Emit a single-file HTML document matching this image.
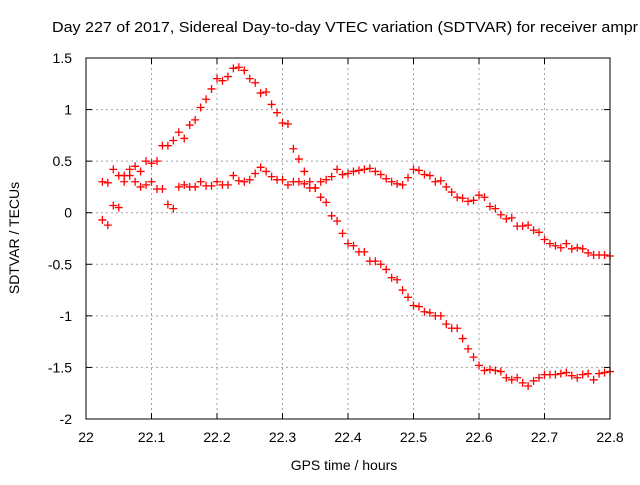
<!DOCTYPE html>
<html><head><meta charset="utf-8"><style>
body{margin:0;background:#fff;width:640px;height:480px;overflow:hidden}
svg text{font-family:"Liberation Sans",sans-serif;font-size:14px;fill:#000}
</style></head><body>
<svg id="chart" width="640" height="480" viewBox="0 0 640 480">
<rect width="640" height="480" fill="#fff"/>
<text x="52" y="32" style="font-size:15px" textLength="586" lengthAdjust="spacingAndGlyphs">Day 227 of 2017, Sidereal Day-to-day VTEC variation (SDTVAR) for receiver ampr</text>
<text x="344" y="470" text-anchor="middle">GPS time / hours</text>
<text transform="translate(19,238) rotate(-90)" text-anchor="middle">SDTVAR / TECUs</text>
<g id="grid"></g><g id="marks"></g>
<rect x="86" y="58" width="524" height="361" fill="none" stroke="#000" stroke-width="1"/>
</svg>
<script>
const xTicks=[22,22.1,22.2,22.3,22.4,22.5,22.6,22.7,22.8];
const xTickLabels=["22","22.1","22.2","22.3","22.4","22.5","22.6","22.7","22.8"];
const yTicks=[1.5,1,0.5,0,-0.5,-1,-1.5,-2];
const yTickLabels=["1.5","1","0.5","0","-0.5","-1","-1.5","-2"];
const startTime=22.025;
const stepHours=1/120;
const seriesA=[-0.07,-0.12,0.07,0.05,0.36,0.42,0.45,0.4,0.5,0.48,0.5,0.65,0.65,0.7,0.78,0.72,0.85,0.9,1.02,1.1,1.2,1.3,1.28,1.32,1.4,1.41,1.38,1.3,1.26,1.16,1.17,1.05,0.97,0.87,0.86,0.62,0.52,0.4,0.3,0.24,0.15,0.1,-0.03,-0.08,-0.2,-0.3,-0.32,-0.38,-0.38,-0.47,-0.47,-0.5,-0.55,-0.63,-0.65,-0.75,-0.82,-0.9,-0.91,-0.96,-0.97,-1.0,-1.0,-1.08,-1.12,-1.12,-1.22,-1.32,-1.4,-1.48,-1.53,-1.52,-1.53,-1.54,-1.6,-1.62,-1.6,-1.65,-1.68,-1.63,-1.6,-1.57,-1.57,-1.57,-1.56,-1.55,-1.58,-1.6,-1.57,-1.56,-1.62,-1.56,-1.55,-1.54];
const seriesB=[0.3,0.29,0.42,0.36,0.3,0.36,0.3,0.25,0.27,0.3,0.23,0.23,0.08,0.04,0.25,0.27,0.25,0.25,0.3,0.26,0.26,0.3,0.27,0.27,0.36,0.31,0.3,0.32,0.38,0.44,0.4,0.35,0.32,0.32,0.27,0.3,0.3,0.28,0.24,0.24,0.3,0.32,0.35,0.42,0.37,0.38,0.4,0.41,0.42,0.43,0.4,0.37,0.33,0.3,0.28,0.27,0.34,0.42,0.41,0.37,0.36,0.3,0.31,0.25,0.2,0.15,0.14,0.11,0.12,0.17,0.15,0.06,0.04,-0.02,-0.06,-0.05,-0.13,-0.13,-0.12,-0.17,-0.19,-0.26,-0.3,-0.32,-0.34,-0.3,-0.35,-0.34,-0.35,-0.39,-0.41,-0.41,-0.41,-0.42];
const NS="http://www.w3.org/2000/svg";
const X0=86,X1=610,Y0=419,Y1=58;
function sx(v){return X0+(v-22)/(0.8)*(X1-X0);}
function sy(v){return Y0-(v+2)/3.5*(Y0-Y1);}
const grid=document.getElementById('grid'),marks=document.getElementById('marks');
function mk(tag,attrs,parent){const e=document.createElementNS(NS,tag);for(const k in attrs)e.setAttribute(k,attrs[k]);parent.appendChild(e);return e;}
xTicks.forEach((t,i)=>{const x=sx(t);
 if(i>0&&i<xTicks.length-1){const g=mk('line',{x1:x,x2:x,y1:Y1,y2:Y0,stroke:'#a0a0a0','stroke-dasharray':'2,3'},grid);
 
 }
 mk('line',{x1:x,x2:x,y1:Y0,y2:Y0-6,stroke:'#000'},grid);
 mk('line',{x1:x,x2:x,y1:Y1,y2:Y1+6,stroke:'#000'},grid);
 const tx=mk('text',{x:x,y:442,'text-anchor':'middle'},grid);tx.textContent=xTickLabels[i];
 
 });
yTicks.forEach((t,i)=>{const y=sy(t);
 if(i>0&&i<yTicks.length-1){const g=mk('line',{x1:X0,x2:X1,y1:y,y2:y,stroke:'#a0a0a0','stroke-dasharray':'2,3'},grid);
 
 }
 mk('line',{x1:X0,x2:X0+6,y1:y,y2:y,stroke:'#000'},grid);
 mk('line',{x1:X1,x2:X1-6,y1:y,y2:y,stroke:'#000'},grid);
 const tx=mk('text',{x:72,y:y+5,'text-anchor':'end'},grid);tx.textContent=yTickLabels[i];
 
 });
function plot(arr,name){arr.forEach((v,k)=>{const x=sx(startTime+k*stepHours),y=sy(v);
 const p=mk('path',{d:`M${x-4},${y}H${x+4}M${x},${y-4}V${y+4}`,stroke:'#ff0000','stroke-width':1.3,fill:'none'},marks);
 
 });}
plot(seriesA,'point-series-a');
plot(seriesB,'point-series-b');
</script>
</body></html>
